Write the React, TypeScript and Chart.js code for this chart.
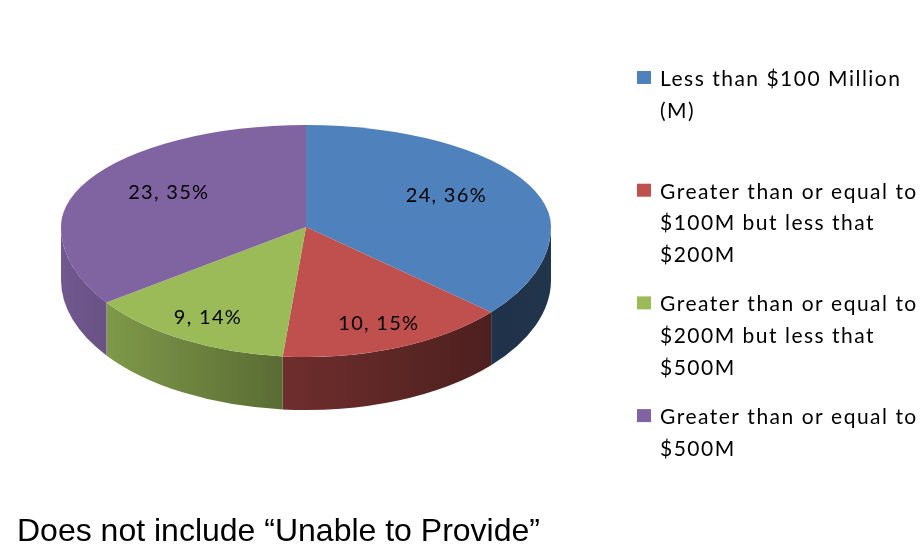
import React, { useEffect, useRef } from "react";
import { Chart, registerables } from "chart.js";

Chart.register(...registerables);

// ---- data ----
const categories: string[][] = [
  ["Less than $100 Million", "(M)"],
  ["Greater than or equal to", "$100M but less that", "$200M"],
  ["Greater than or equal to", "$200M but less that", "$500M"],
  ["Greater than or equal to", "$500M"],
];
const counts: number[] = [24, 10, 9, 23];
const colors: string[] = ["#4F81BD", "#C0504D", "#9BBB59", "#8064A2"];
const footnote = "Does not include \u201CUnable to Provide\u201D";

// ---- styling constants ----
const W = 924;
const H = 549;
const APEX_Y = 227;
const K_TOP = 102 / 245;
const K_BOT = 130 / 245;
const DEPTH = 53;

function shade(hex: string, f: number): string {
  const n = parseInt(hex.slice(1), 16);
  const r = Math.round(((n >> 16) & 255) * f);
  const g = Math.round(((n >> 8) & 255) * f);
  const b = Math.round((n & 255) * f);
  return `rgb(${r},${g},${b})`;
}

const pie3d = {
  id: "pie3d",
  beforeDatasetsDraw(chart: any) {
    const ctx: CanvasRenderingContext2D = chart.ctx;
    const meta = chart.getDatasetMeta(0);
    const arcs = meta.data;
    if (!arcs.length) return;
    const cx = arcs[0].x;
    const cy = arcs[0].y;
    const r = arcs[0].outerRadius;
    const ay = APEX_Y;
    const ryb = r * K_BOT;

    // side walls
    arcs.forEach((arc: any, i: number) => {
      const s = arc.startAngle;
      const e = arc.endAngle;
      for (const off of [0, 2 * Math.PI, -2 * Math.PI]) {
        const a1 = Math.max(s, off);
        const a2 = Math.min(e, off + Math.PI);
        if (a2 <= a1) continue;
        const g = ctx.createLinearGradient(cx - r, 0, cx + r, 0);
        g.addColorStop(0, shade(colors[i], 0.88));
        g.addColorStop(0.45, shade(colors[i], 0.58));
        g.addColorStop(0.9, shade(colors[i], 0.39));
        g.addColorStop(1, shade(colors[i], 0.4));
        ctx.save();
        ctx.beginPath();
        ctx.ellipse(cx, ay, r, ryb, 0, a1, a2, false);
        ctx.ellipse(cx, ay + DEPTH, r, ryb, 0, a2, a1, true);
        ctx.closePath();
        ctx.fillStyle = g;
        ctx.fill();
        ctx.restore();
      }
    });

    // top face: two half-ellipses (perspective approximation)
    const halves = [
      { y0: 0, y1: ay + 0.5, k: K_TOP },
      { y0: ay - 0.5, y1: H, k: K_BOT },
    ];
    halves.forEach((h) => {
      ctx.save();
      ctx.beginPath();
      ctx.rect(0, h.y0, W, h.y1 - h.y0);
      ctx.clip();
      ctx.translate(cx, ay);
      ctx.scale(1, h.k);
      ctx.translate(-cx, -cy);
      arcs.forEach((a: any) => a.draw(ctx));
      ctx.restore();
    });
    return false;
  },
  afterDraw(chart: any) {
    const ctx: any = chart.ctx;
    const meta = chart.getDatasetMeta(0);
    const arcs = meta.data;
    const cx = arcs[0].x;
    const r = arcs[0].outerRadius;
    const total = counts.reduce((a, b) => a + b, 0);

    // data labels
    ctx.save();
    ctx.fillStyle = "#000";
    ctx.font = "20px Lato";
    ctx.letterSpacing = "1.3px";
    ctx.textAlign = "center";
    ctx.textBaseline = "middle";
    arcs.forEach((arc: any, i: number) => {
      const m = (arc.startAngle + arc.endAngle) / 2;
      const sn = Math.sin(m);
      const f = sn > 0 ? 0.8 : 0.63;
      const k = sn > 0 ? K_BOT : K_TOP;
      const x = cx + f * r * Math.cos(m);
      const y = APEX_Y + f * r * k * sn + (sn > 0 ? 0 : -5);
      const pct = Math.round((counts[i] / total) * 100);
      ctx.fillText(`${counts[i]}, ${pct}%`, x, y);
    });
    ctx.restore();

    // legend
    ctx.save();
    ctx.font = "21px Lato";
    ctx.letterSpacing = "1.5px";
    ctx.textAlign = "left";
    ctx.textBaseline = "alphabetic";
    categories.forEach((lines, i) => {
      const base = 86 + i * 112.7;
      ctx.fillStyle = colors[i];
      ctx.fillRect(637, base - 15, 14, 13);
      ctx.fillStyle = "#000";
      lines.forEach((ln, j) => {
        ctx.fillText(ln, 660, base + j * 31.6);
      });
    });
    ctx.restore();

    // footnote
    ctx.save();
    ctx.font = "32px 'Liberation Sans'";
    ctx.fillStyle = "#000";
    ctx.textAlign = "left";
    ctx.textBaseline = "alphabetic";
    ctx.fillText(footnote, 17, 541);
    ctx.restore();
  },
};

export default function App() {
  const ref = useRef<HTMLCanvasElement | null>(null);
  useEffect(() => {
    if (!ref.current) return;
    const chart = new Chart(ref.current, {
      type: "pie",
      data: {
        labels: categories.map((c) => c.join(" ")),
        datasets: [
          {
            data: counts,
            backgroundColor: colors,
            borderWidth: 0,
          },
        ],
      },
      options: {
        animation: false,
        responsive: false,
        devicePixelRatio: 1,
        layout: { padding: { left: 61, right: 373, top: 30, bottom: 29 } },
        plugins: {
          legend: { display: false },
          tooltip: { enabled: false },
        },
      } as any,
      plugins: [pie3d as any],
    });
    return () => chart.destroy();
  }, []);
  return (
    <div style={{ position: "fixed", left: 0, top: 0, width: W, height: H, background: "#fff" }}>
      <canvas ref={ref} width={W} height={H} style={{ width: W, height: H, display: "block" }} />
    </div>
  );
}
